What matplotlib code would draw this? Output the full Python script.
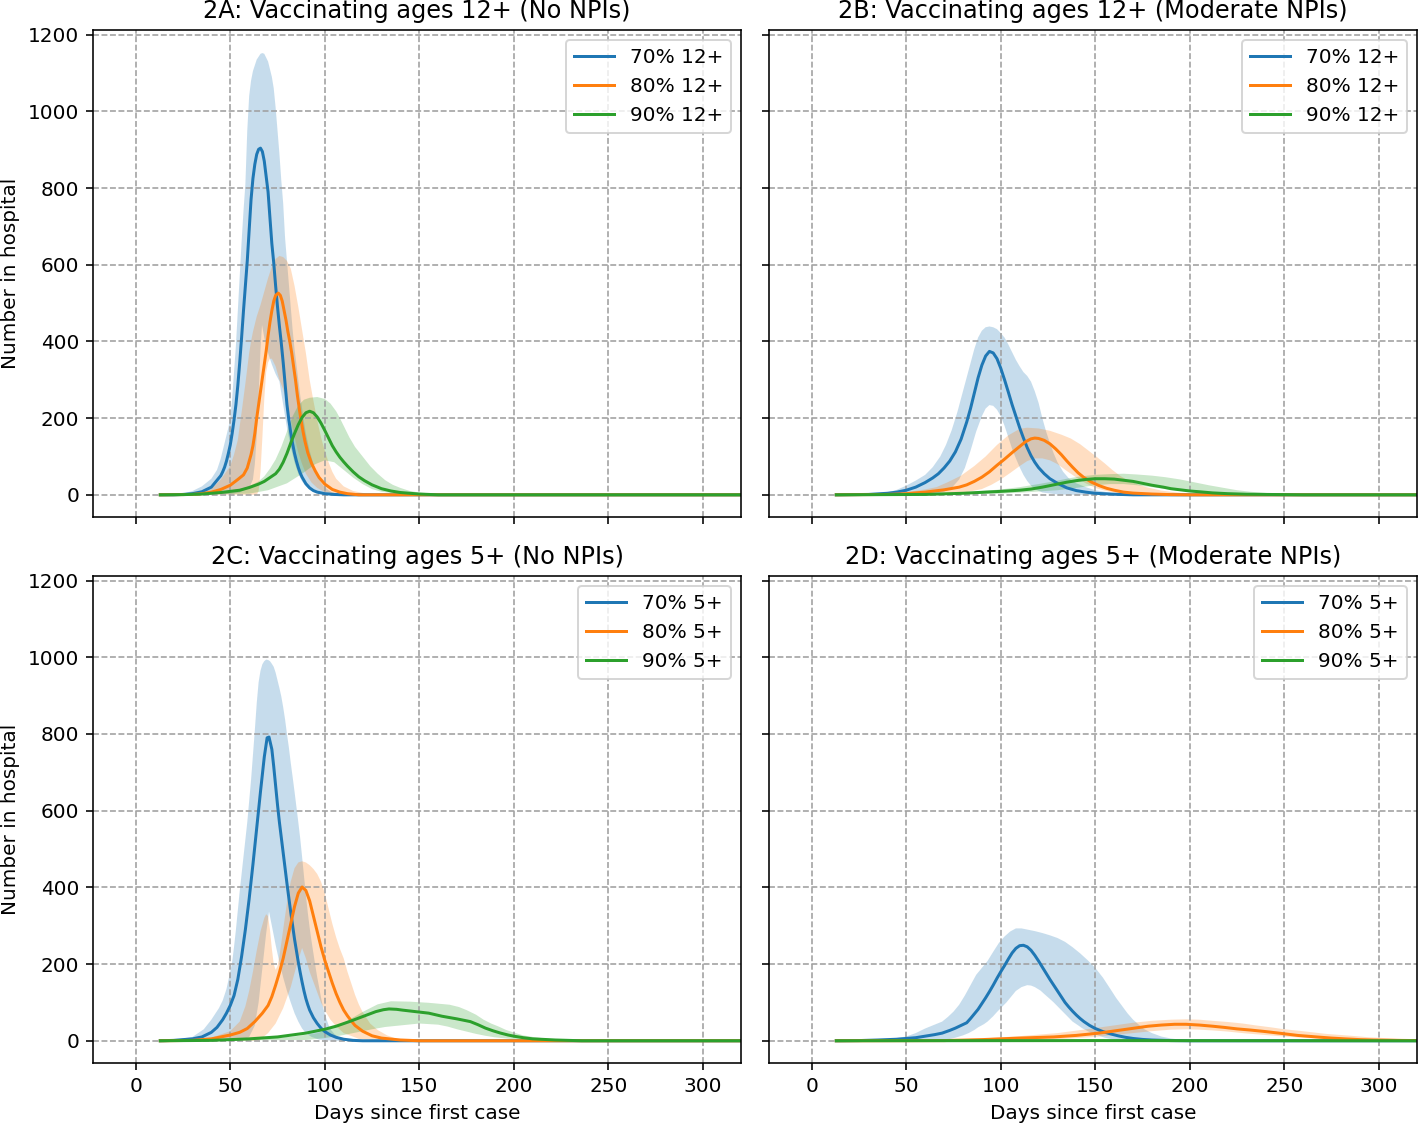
import numpy as np
import matplotlib
matplotlib.use("Agg")
import matplotlib.pyplot as plt

# values, as (day, number in hospital) pairs
# 2A: ages 12+, no NPIs
A70_mid = [(13,0),(20,0),(25,1),(30,3),(35,8),(40,20),(45,50),(46,60),(47,72),(48,88),(49,108),(50,130),(51,160),(52,195),(53,235),(54,285),(55,345),(56,410),(57,480),(58,545),(59,610),(60,690),(61,770),(62,825),(63,862),(64,888),(65,901),(66,904),(67,895),(68,870),(69,830),(70,790),(71,722),(72,655),(73,605),(74,545),(75,490),(76,440),(77,395),(78,345),(79,290),(80,235),(81,195),(82,162),(83,133),(84,108),(85,88),(86,71),(87,57),(88,46),(90,29),(92,18),(94,11),(96,7),(100,3),(105,1),(110,0),(320,0)]
A70_hi = [(13,0),(20,1),(25,3),(30,10),(35,22),(40,42),(43,65),(45,95),(47,135),(49,175),(50,200),(51,250),(52,320),(53,390),(54,480),(55,570),(56,660),(57,740),(58,810),(59,950),(60,1040),(61,1080),(62,1105),(64,1135),(66,1150),(67,1152),(68,1150),(70,1130),(72,1090),(73,1060),(74,1010),(75,950),(76,890),(77,820),(78,760),(79,670),(80,610),(81,550),(82,490),(83,430),(84,380),(85,340),(86,300),(87,260),(88,225),(89,190),(90,160),(92,115),(94,80),(96,52),(98,32),(100,20),(102,12),(104,6),(108,2),(112,0),(320,0)]
A70_lo = [(13,0),(50,2),(55,6),(60,18),(62,40),(63,80),(64,150),(65,260),(66,380),(66.8,443),(68,410),(70,370),(72,340),(74,315),(76,296),(77,265),(78,235),(79,205),(80,175),(82,125),(84,85),(86,55),(88,35),(90,22),(93,10),(97,3),(102,0),(320,0)]
A80_mid = [(13,0),(30,1),(35,3),(40,7),(45,14),(50,25),(54,40),(57,52),(59,70),(61,105),(62,128),(63,160),(64,200),(65,235),(66,270),(67,305),(68,340),(69,375),(70,415),(71,450),(72,480),(73,505),(74,520),(75.4,526),(76.5,520),(77.5,505),(78.5,480),(79.5,455),(80.5,425),(81.5,400),(82.5,370),(83.5,335),(84.5,300),(85.5,260),(86.5,225),(87.5,193),(88.5,165),(89.5,140),(91,110),(93,82),(95,62),(97,45),(100,28),(104,14),(108,7),(112,3),(118,0),(320,0)]
A80_hi = [(13,0),(30,2),(35,6),(40,15),(45,40),(50,75),(52,105),(54,143),(56,215),(58,290),(59,330),(60,370),(61,400),(62,425),(64,465),(66,495),(68,530),(70,565),(72,595),(74,615),(76,623),(78,620),(80,610),(82,590),(84,545),(86,490),(88,430),(90,370),(92,300),(94,245),(96,195),(98,150),(100,115),(102,85),(104,60),(106,42),(110,22),(115,10),(125,0),(320,0)]
A80_lo = [(13,0),(64,0),(65,10),(66,60),(67,150),(68,250),(69,320),(70,345),(71,355),(72,355),(74,335),(76,300),(78,275),(80,240),(82,195),(84,150),(86,110),(88,80),(90,55),(93,32),(96,18),(100,7),(105,2),(110,0),(320,0)]
A90_mid = [(13,0),(25,0.5),(35,2),(45,6),(55,12),(60,19),(65,28),(68,35),(71,45),(74,55),(76,67),(78,85),(80,108),(82,135),(84,160),(86,183),(88,202),(90,214),(92,218),(94,214),(96,203),(98,187),(100,168),(102,148),(104,128),(106,112),(108,98),(110,86),(112,75),(115,60),(118,47),(121,37),(125,26),(130,16),(135,10),(140,6),(150,2),(160,0),(320,0)]
A90_hi = [(13,0),(30,1),(45,8),(55,15),(60,22),(65,35),(68,48),(71,68),(74,92),(77,125),(80,165),(83,205),(86,233),(89,248),(92,253),(96,255),(100,250),(103,238),(106,218),(108,200),(110,180),(113,150),(116,125),(120,100),(124,75),(128,55),(132,38),(136,26),(140,18),(145,10),(150,6),(160,2),(170,0),(320,0)]
A90_lo = [(13,0),(60,3),(70,12),(80,30),(88,55),(95,80),(100,90),(105,85),(110,65),(115,45),(120,28),(125,15),(130,8),(140,2),(150,0),(320,0)]

# 2B: ages 12+, moderate NPIs
B70_mid = [(13,0),(30,1),(40,4),(45,7),(50,12),(55,20),(60,32),(64,44),(67,55),(70,70),(73,88),(76,112),(79,145),(82,190),(84,225),(86,265),(88,305),(90,338),(92,362),(94,374),(96,370),(98,355),(100,330),(102,300),(104,268),(106,235),(108,205),(110,175),(112,148),(114,123),(116,102),(118,85),(120,71),(123,55),(126,42),(130,30),(135,18),(140,11),(145,7),(150,4),(160,1.5),(170,0),(320,0)]
B70_hi = [(13,0),(30,2),(40,6),(45,13),(50,24),(55,37),(60,52),(64,72),(68,100),(71,130),(74,168),(77,215),(80,270),(83,325),(86,380),(88,410),(90,428),(92,437),(94,439),(96,437),(98,432),(100,422),(102,410),(104,392),(106,372),(108,352),(110,335),(112,320),(114,310),(116,295),(118,270),(120,240),(122,200),(124,165),(126,135),(128,108),(130,85),(133,60),(136,43),(140,30),(145,20),(150,12),(160,4),(170,0),(320,0)]
B70_lo = [(13,0),(60,0),(66,3),(70,8),(74,18),(78,40),(81,70),(84,115),(87,165),(90,205),(92,225),(94,234),(96,232),(98,222),(100,205),(102,180),(104,150),(106,120),(108,95),(110,72),(112,52),(114,36),(116,24),(118,15),(122,6),(130,1),(140,0),(320,0)]
B80_mid = [(13,0),(40,1),(50,3),(60,7),(70,13),(78,20),(82,26),(86,35),(90,46),(94,60),(98,77),(102,93),(106,110),(110,126),(113,138),(116,146),(118,148),(120,147),(123,142),(126,133),(129,120),(132,105),(135,88),(138,72),(141,57),(144,45),(148,33),(152,24),(156,17),(160,12),(165,7),(170,4.5),(180,2),(190,0.5),(200,0),(320,0)]
B80_hi = [(13,0),(36,1),(50,7),(60,14),(66,20),(72,33),(79,50),(86,75),(92,100),(98,130),(104,155),(110,172),(114,175),(120,173),(126,167),(132,157),(137,147),(142,132),(147,113),(151,98),(155,82),(159,65),(163,50),(167,38),(172,28),(177,20),(185,11),(195,5),(204,1),(215,0),(320,0)]
B80_lo = [(13,0),(60,0),(80,5),(90,15),(95,26),(100,40),(105,57),(110,75),(114,88),(118,95),(122,95),(126,90),(130,80),(135,62),(140,45),(145,30),(150,18),(155,11),(160,6),(170,2),(180,0),(320,0)]
B90_mid = [(13,0),(60,1),(80,4),(100,9),(110,12),(116,15),(122,20),(126,24),(130,28),(135,33),(140,37),(145,40),(150,42),(155,42),(160,41),(165,38),(170,35),(175,30),(180,25),(186,20),(190,16),(195,13),(200,10),(205,8),(212,5),(220,3),(230,1.5),(240,1),(260,0),(320,0)]
B90_hi = [(13,0),(60,2),(80,6),(100,14),(110,20),(120,28),(128,35),(135,42),(142,48),(150,52),(158,54),(165,55),(172,53),(180,50),(187,46),(195,40),(202,33),(210,25),(218,18),(225,12),(232,8),(240,5),(250,2),(260,1),(280,0),(320,0)]
B90_lo = [(13,0),(100,3),(115,7),(130,12),(140,18),(150,25),(158,28),(165,28),(172,25),(180,20),(190,13),(200,8),(210,4),(220,2),(240,0),(320,0)]

# 2C: ages 5+, no NPIs
C70_mid = [(13,0),(20,1),(30,5),(35,10),(40,22),(43,35),(46,55),(48,72),(50,92),(52,118),(54,160),(56,220),(58,290),(60,370),(62,460),(64,555),(66,650),(68,740),(69.5,790),(70.5,792),(72,760),(73,715),(74,665),(75,615),(76,570),(77,530),(78,490),(79,450),(80,410),(81,372),(82,335),(83,300),(84,265),(85,235),(86,205),(87,178),(88,153),(89,130),(90,110),(91,94),(92,80),(94,60),(96,45),(98,33),(100,24),(103,15),(106,9),(110,4),(115,1),(120,0),(320,0)]
C70_hi = [(13,0),(20,2),(30,10),(36,30),(40,55),(44,85),(46,105),(48,135),(50,180),(51,205),(52,245),(53,290),(54,340),(55,390),(56,435),(57,480),(58,525),(59,570),(60,625),(61,680),(62,745),(63,810),(64,880),(65,935),(66,965),(67,982),(68,990),(69,994),(70,993),(71,990),(72,983),(73,975),(74,960),(75,940),(76,920),(77,898),(78,870),(79,838),(80,800),(81,765),(82,725),(83,688),(84,650),(85,610),(86,570),(87,528),(88,480),(89,430),(90,380),(91,335),(92,295),(93,260),(94,228),(95,196),(96,166),(97,140),(98,113),(99,90),(100,70),(101,55),(102,41),(103,30),(105,18),(107,10),(110,5),(115,0),(320,0)]
C70_lo = [(13,0),(55,0),(60,10),(63,40),(65,100),(67,190),(69,280),(70.5,337),(72,300),(74,250),(76,205),(78,165),(80,130),(82,100),(84,72),(86,50),(88,32),(90,20),(93,10),(97,3),(105,0),(320,0)]
C80_mid = [(13,0),(30,1),(40,5),(50,15),(55,22),(59,32),(63,50),(67,72),(70,92),(72,115),(74,145),(76,178),(78,215),(80,260),(82,305),(84,350),(86,385),(88,401),(90,392),(92,365),(94,325),(96,285),(98,245),(100,210),(102,180),(104,150),(106,123),(108,100),(110,80),(112,65),(114,52),(116,40),(120,25),(125,13),(130,7),(140,2),(150,0),(320,0)]
C80_hi = [(13,0),(30,2),(40,8),(50,25),(55,50),(58,90),(60,130),(62,180),(64,235),(66,285),(68,320),(69,330),(70,325),(71,290),(72,240),(73,200),(74,185),(75,195),(76,220),(78,290),(80,360),(82,415),(84,450),(86,465),(88,468),(90,465),(92,458),(94,448),(96,435),(98,415),(100,385),(102,345),(104,305),(106,270),(108,240),(110,215),(112,180),(114,150),(116,120),(118,95),(120,75),(124,45),(128,28),(133,14),(141,0),(320,0)]
C80_lo = [(13,0),(65,0),(70,20),(74,45),(78,85),(82,140),(85,195),(88,242),(90,215),(92,180),(95,140),(98,100),(100,80),(103,55),(106,38),(110,20),(118,5),(130,0),(320,0)]
C90_mid = [(13,0),(40,1),(60,5),(75,10),(90,20),(100,30),(106,38),(113,50),(120,63),(127,76),(131,81),(134,83),(138,82),(141,80),(148,76),(155,72),(162,64),(170,57),(177,50),(181,42),(185,33),(189,26),(193,20),(197,15),(200,12),(205,8),(210,5),(222,2),(236,0),(320,0)]
C90_hi = [(13,0),(50,2),(70,6),(85,12),(96,20),(105,35),(113,55),(120,75),(128,95),(135,103),(145,102),(155,99),(166,94),(171,88),(175,80),(180,68),(184,55),(188,45),(192,37),(196,28),(201,20),(205,14),(210,10),(220,4),(230,1),(240,0),(320,0)]
C90_lo = [(13,0),(90,2),(100,7),(110,15),(118,23),(125,30),(132,36),(140,40),(150,45),(160,42),(165,37),(170,30),(175,24),(180,18),(185,13),(190,9),(200,4),(215,1),(230,0),(320,0)]

# 2D: ages 5+, moderate NPIs
D70_mid = [(13,0),(25,0.5),(35,2),(45,4),(50,6),(55,8),(60,12),(65,16),(69,20),(73,27),(76,33),(79,40),(82,47),(84,58),(86,70),(88,82),(90,97),(92,112),(94,128),(96,145),(98,163),(100,180),(102,196),(104,213),(106,229),(108,241),(110,248),(112,249),(114,245),(116,236),(118,223),(120,208),(122,192),(124,176),(126,160),(128,145),(130,130),(132,115),(134,100),(136,88),(138,77),(140,67),(142,58),(144,50),(147,40),(150,32),(154,24),(158,18),(162,13),(166,9),(170,6),(175,3.5),(180,2),(190,0.5),(200,0),(320,0)]
D70_hi = [(13,0),(29,0.5),(40,4),(50,11),(55,20),(60,32),(65,42),(69,50),(72,62),(75,76),(78,94),(81,118),(84,145),(87,172),(90,190),(93,208),(96,232),(99,255),(102,272),(105,285),(108,293),(111,293),(114,290),(118,286),(122,281),(126,275),(130,268),(134,258),(138,244),(142,228),(146,210),(150,190),(154,165),(158,135),(161,112),(164,92),(167,72),(170,55),(173,42),(176,30),(180,20),(185,11),(190,6),(198,1),(205,0),(320,0)]
D70_lo = [(13,0),(69,0),(76,8),(80,14),(83,20),(86,28),(88,35),(91,43),(93,50),(96,64),(98,75),(101,90),(103,100),(106,118),(108,130),(111,140),(114,145),(116,144),(118,140),(121,131),(123,122),(126,109),(128,100),(131,85),(133,75),(136,60),(138,50),(141,40),(143,33),(146,25),(148,20),(152,13),(155,8),(160,3),(164,0),(320,0)]
D80_mid = [(13,0),(70,0.5),(90,3),(110,7),(128,10),(140,14),(152,20),(165,29),(178,38),(185,41),(192,43),(198,43),(205,41),(212,38),(218,35),(225,31),(232,28),(240,24),(247,20),(252,17),(257,14),(262,12),(267,10),(275,7),(282,5),(290,3),(297,2),(310,1),(320,0.5)]
D80_hi = [(13,0),(70,2),(90,6),(110,12),(130,20),(150,33),(160,40),(170,47),(180,52),(190,55),(198,56),(205,55),(212,52),(220,49),(228,45),(235,40),(243,35),(250,30),(258,26),(265,22),(272,18),(280,15),(288,12),(295,9),(303,7),(310,5),(320,3)]
D80_lo = [(13,0),(100,1),(115,2),(130,4),(140,7),(150,10),(160,15),(170,20),(180,25),(190,29),(198,30),(205,29),(212,27),(220,24),(230,19),(240,15),(250,11),(260,8),(270,5),(280,3),(300,1),(320,0)]
D90_mid = [(13,0),(100,0.3),(150,0.5),(200,0.3),(320,0)]
D90_hi = [(13,0),(100,1),(150,1.5),(200,1),(320,0)]
D90_lo = [(13,0),(320,0)]

titles = ['2A: Vaccinating ages 12+ (No NPIs)', '2B: Vaccinating ages 12+ (Moderate NPIs)',
          '2C: Vaccinating ages 5+ (No NPIs)', '2D: Vaccinating ages 5+ (Moderate NPIs)']
labels_12 = ['70% 12+', '80% 12+', '90% 12+']
labels_5 = ['70% 5+', '80% 5+', '90% 5+']
colors = ['tab:blue', 'tab:orange', 'tab:green']

panels = [
    (labels_12, [(A70_mid, A70_lo, A70_hi), (A80_mid, A80_lo, A80_hi), (A90_mid, A90_lo, A90_hi)]),
    (labels_12, [(B70_mid, B70_lo, B70_hi), (B80_mid, B80_lo, B80_hi), (B90_mid, B90_lo, B90_hi)]),
    (labels_5, [(C70_mid, C70_lo, C70_hi), (C80_mid, C80_lo, C80_hi), (C90_mid, C90_lo, C90_hi)]),
    (labels_5, [(D70_mid, D70_lo, D70_hi), (D80_mid, D80_lo, D80_hi), (D90_mid, D90_lo, D90_hi)]),
]


def xy(pairs):
    a = np.array(pairs, dtype=float)
    return a[:, 0], a[:, 1]


fig, axes = plt.subplots(2, 2, figsize=(1418 / 144, 1125 / 144), dpi=144, sharex=True, sharey=True)
fig.subplots_adjust(left=0.0656, right=0.9993, bottom=0.0551, top=0.9733, wspace=0.0432, hspace=0.121)

for ax, title, (labels, series) in zip(axes.flat, titles, panels):
    for label, color, (mid, lo, hi) in zip(labels, colors, series):
        # band between the lower and upper curve
        hx, hy = xy(hi)
        lx, ly = xy(lo)
        ax.fill(np.r_[hx, lx[::-1]], np.r_[hy, ly[::-1]], color=color, alpha=0.25, lw=0)
        mx, my = xy(mid)
        ax.plot(mx, my, color=color, lw=1.5, label=label)
    ax.set_title(title)
    ax.grid(True, linestyle='--', color='#a0a0a0')
    ax.legend(loc='upper right')

ax = axes[0, 0]
ax.set_xlim(-22.6, 320.2)
ax.set_ylim(-58, 1212)
ax.set_xticks(range(0, 301, 50))
ax.set_yticks(range(0, 1201, 200))
for a in axes[:, 0]:
    a.set_ylabel('Number in hospital')
for a in axes[1, :]:
    a.set_xlabel('Days since first case')

fig.savefig('out.png', dpi=144)
